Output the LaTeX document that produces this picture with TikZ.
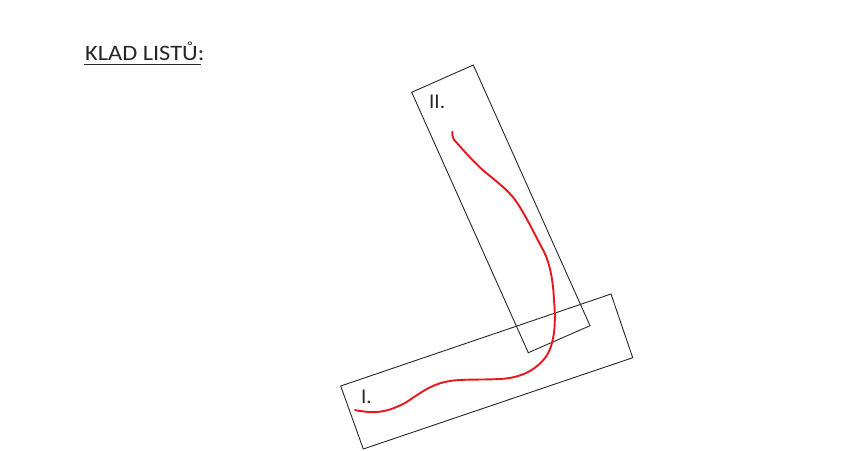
\documentclass[tikz,border=0pt]{standalone}
\usepackage{fontspec}
\setmainfont{Carlito}
\newfontfamily\titlefont[FakeStretch=1.11]{Carlito}
\begin{document}
\begin{tikzpicture}[x=1pt,y=-1pt,
  ink/.style={draw=black!85, line width=0.9pt},
  lbl/.style={inner sep=0pt, text=black!85, font=\fontsize{21}{25}\selectfont},
  path/.style={draw={rgb,255:red,232;green,22;blue,30}, line width=1.9pt, line cap=round}]
\useasboundingbox (0,0) rectangle (857,450);
% title
\node[lbl, anchor=base west, font=\titlefont\fontsize{22}{26}\selectfont] (title) at (85,60) {KLAD LISTŮ:};
\coordinate (ul1) at (83.5,64);
\coordinate (ul2) at (200.5,64);
\draw[draw=black!85, line width=0.9pt] (ul1) -- (ul2);
% sheet II
\coordinate (a1) at (411.7,92.3);
\coordinate (a2) at (473.3,65);
\coordinate (a3) at (590,325.7);
\coordinate (a4) at (528.3,352.7);
\draw[ink] (a1) -- (a2) -- (a3) -- (a4) -- cycle;
% sheet I
\coordinate (b1) at (340.7,386);
\coordinate (b2) at (611,294);
\coordinate (b3) at (632.7,357.7);
\coordinate (b4) at (363.3,449);
\draw[ink] (b1) -- (b2) -- (b3) -- (b4) -- cycle;
% labels
\node[lbl, anchor=base west] (l2) at (429,108) {II.};
\node[lbl, anchor=base west] (l1) at (361,403) {I.};
% red route
\draw[path] (452.3,131.7) .. controls (452,136) and (453,139) .. (456,142)
  .. controls (466,153) and (478,167) .. (490,176)
  .. controls (502,186) and (510,192) .. (518,204)
  .. controls (528,220) and (536,237) .. (542,248)
  .. controls (550,262) and (553,280) .. (554,300)
  .. controls (556,322) and (555,345) .. (545,358)
  .. controls (533,373) and (517,378) .. (500,379)
  .. controls (480,380) and (462,379) .. (450,381)
  .. controls (430,384) and (418,395) .. (405,403)
  .. controls (392,410) and (380,413) .. (368,412)
  .. controls (362,411) and (358,411) .. (355,410);
\end{tikzpicture}
\end{document}
